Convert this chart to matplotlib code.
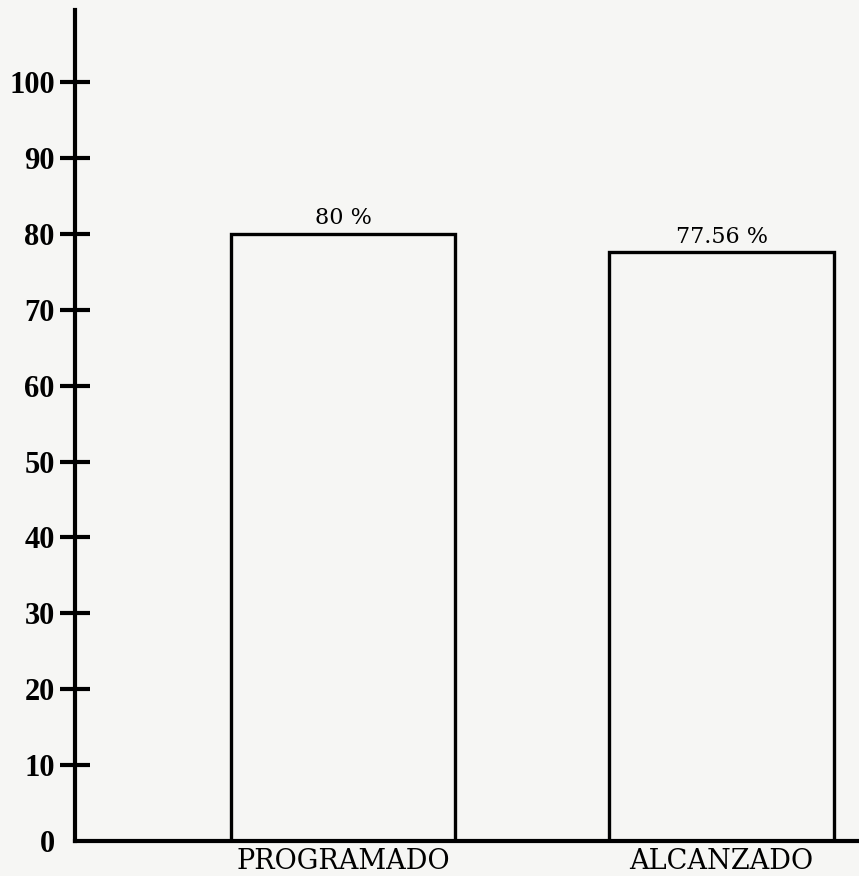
import matplotlib.pyplot as plt

categories = ["PROGRAMADO", "ALCANZADO"]
values = [80, 77.56]
bar_labels = ["80 %", "77.56 %"]
yticks = [0, 10, 20, 30, 40, 50, 60, 70, 80, 90, 100]

plt.rcParams['font.family'] = ['DejaVu Serif']

fig = plt.figure(figsize=(8.59, 8.76), dpi=100, facecolor='#f6f6f4')
ax = fig.add_axes([75 / 859, 35 / 876, 784 / 859, 831 / 876])
ax.set_facecolor('#f6f6f4')

x = [0, 1]
ax.bar(x, values, width=0.594, color='none', edgecolor='black', linewidth=2.4, zorder=3)

for xi, v, lab in zip(x, values, bar_labels):
    ax.text(xi, v + 0.6, lab, ha='center', va='bottom', fontsize=16)

ax.set_xlim(-0.708, 1.363)
ax.set_ylim(0, 109.5)

ax.set_yticks(yticks)
ax.set_yticklabels([str(t) for t in yticks], fontsize=22, fontweight='bold',
                   family='Liberation Serif')
ax.tick_params(axis='y', direction='inout', length=21, width=3, pad=4)
ax.get_yticklines()[0].set_visible(False)

ax.set_xticks(x)
ax.set_xticklabels(categories, fontsize=19.5)
ax.tick_params(axis='x', length=0, pad=5)

for side in ['top', 'right']:
    ax.spines[side].set_visible(False)
for side in ['left', 'bottom']:
    ax.spines[side].set_linewidth(3)

fig.savefig('out.png', dpi=100, facecolor=fig.get_facecolor())
